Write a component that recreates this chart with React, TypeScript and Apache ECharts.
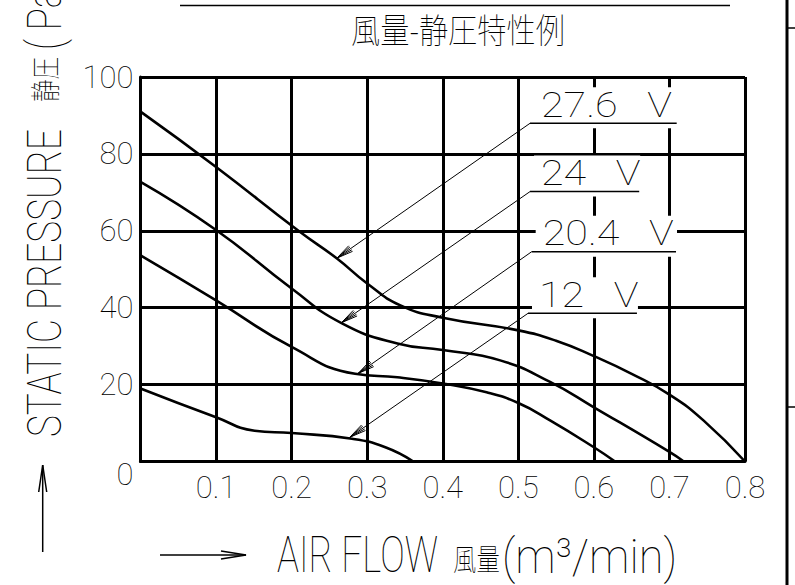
import React, { useEffect, useRef } from 'react';
import * as echarts from 'echarts';

// ---- data (air flow m3/min, static pressure Pa) ----
const flow276 = [0, 0.1, 0.209, 0.26, 0.3, 0.344, 0.4, 0.5, 0.55, 0.6, 0.65, 0.7, 0.745, 0.8];
const pres276 = [91, 76.6, 60, 52.8, 46.3, 40.6, 37.4, 34.1, 31.4, 27.4, 22.8, 17.4, 10.7, 0];

const flow24 = [0, 0.1, 0.2, 0.266, 0.34, 0.4, 0.476, 0.542, 0.6, 0.7, 0.719];
const pres24 = [72.7, 60.2, 45, 36, 30.7, 29, 26.3, 20.7, 14.1, 2.5, 0];

const flow204 = [0, 0.1, 0.2, 0.284, 0.34, 0.4, 0.458, 0.5, 0.542, 0.6, 0.628];
const pres204 = [53.6, 41.9, 29.8, 22.8, 21.9, 20.3, 18, 15.2, 10.7, 3.7, 0];

const flow12 = [0, 0.1, 0.151, 0.2, 0.28, 0.324, 0.361];
const pres12 = [19, 11.5, 8, 7.4, 5.9, 3.7, 0];

const xTickLabels = ['', '0.1', '0.2', '0.3', '0.4', '0.5', '0.6', '0.7', '0.8'];
const yTickLabels = ['0', '20', '40', '60', '80', '100'];

// ---- annotations (data coordinates) ----
const labelTexts = ['27.6   V', '24   V', '20.4   V', '12   V'];
const labelAnchor = [[0.5155, 87.96], [0.5155, 70.2], [0.5177, 54.56], [0.5128, 38.54]];
const underlineEndX = [0.7096, 0.66, 0.7087, 0.657];
const arrowTip = [[0.26, 52.9], [0.266, 36.1], [0.288, 22.9], [0.277, 6.3]];

const LATIN = 'Roboto';
const CJK = '"Noto Sans CJK JP"';
const TICK = 'Roboto';

function pairs(xs: number[], ys: number[]) {
  return xs.map((x, i) => [x, ys[i]]);
}

function barbs(tip: number[], from: number[], len: number, ang: number) {
  const dx = from[0] - tip[0];
  const dy = from[1] - tip[1];
  const l = Math.hypot(dx, dy);
  const ux = dx / l, uy = dy / l;
  const rot = (a: number) => [
    tip[0] + len * (ux * Math.cos(a) - uy * Math.sin(a)),
    tip[1] + len * (ux * Math.sin(a) + uy * Math.cos(a)),
  ];
  return [rot(ang), tip, rot(-ang)];
}

export default function App() {
  const ref = useRef<HTMLDivElement>(null);
  useEffect(() => {
    if (!ref.current) return;
    const chart = echarts.init(ref.current, null, { renderer: 'svg', width: 795, height: 585 });
    const lineSeries = (name: string, data: number[][]) => ({
      name,
      type: 'line',
      data,
      symbol: 'none',
      smooth: 0.5,
      lineStyle: { color: '#000', width: 2.6 },
      z: 3,
    });
    const tickStyle = { fontFamily: TICK, fontWeight: 100, fontSize: 31, color: '#000' };
    chart.setOption({
      animation: false,
      backgroundColor: '#fff',
      grid: { left: 140.5, top: 77, width: 604.5, height: 384.5, containLabel: false },
      xAxis: {
        type: 'value',
        min: 0,
        max: 0.8,
        interval: 0.1,
        axisLine: { show: true, onZero: false, lineStyle: { color: '#000', width: 3 } },
        axisTick: { show: false },
        splitLine: { show: true, lineStyle: { color: '#000', width: 3 } },
        axisLabel: {
          margin: 10,
          ...tickStyle,
          formatter: (_v: number, i: number) => xTickLabels[i] ?? '',
        },
      },
      yAxis: {
        type: 'value',
        min: 0,
        max: 100,
        interval: 20,
        axisLine: { show: true, lineStyle: { color: '#000', width: 3 } },
        axisTick: { show: false },
        splitLine: { show: true, lineStyle: { color: '#000', width: 3 } },
        axisLabel: {
          margin: 7,
          ...tickStyle,
          formatter: (_v: number, i: number) => (i === 0 ? '{o|' + yTickLabels[0] + '}' : yTickLabels[i]),
          rich: { o: { padding: [26, 0, 0, 0], ...tickStyle } },
        },
      },
      series: [
        lineSeries('27.6 V', pairs(flow276, pres276)),
        lineSeries('24 V', pairs(flow24, pres24)),
        lineSeries('20.4 V', pairs(flow204, pres204)),
        lineSeries('12 V', pairs(flow12, pres12)),
      ],
    });

    const px = (p: number[]) => chart.convertToPixel({ gridIndex: 0 }, p) as number[];
    const g: any[] = [];

    // frame / title elements
    g.push({ type: 'line', z: 20, shape: { x1: 787, y1: 0, x2: 787, y2: 585 }, style: { stroke: '#000', lineWidth: 3 } });
    g.push({ type: 'line', z: 20, shape: { x1: 787, y1: 28, x2: 795, y2: 28 }, style: { stroke: '#000', lineWidth: 1.5 } });
    g.push({ type: 'line', z: 20, shape: { x1: 787, y1: 407, x2: 795, y2: 407 }, style: { stroke: '#000', lineWidth: 1.5 } });
    g.push({ type: 'line', z: 20, shape: { x1: 180, y1: 5.5, x2: 730, y2: 5.5 }, style: { stroke: '#000', lineWidth: 1.5 } });
    g.push({
      type: 'text', z: 20, x: 458, y: 28, scaleX: 0.86,
      style: { text: '風量-静圧特性例', font: `100 34px ${CJK}`, fill: '#000', align: 'center', verticalAlign: 'middle' },
    });

    // x axis title
    g.push({ type: 'line', z: 20, shape: { x1: 160, y1: 555, x2: 246, y2: 555 }, style: { stroke: '#000', lineWidth: 1.5 } });
    g.push({ type: 'polyline', z: 20, shape: { points: [[221, 551], [246, 555], [221, 559]] }, style: { stroke: '#000', lineWidth: 1.5, fill: null } });
    g.push({
      type: 'text', z: 20, x: 277, y: 555.5, scaleX: 0.75,
      style: { text: 'AIR FLOW', font: `100 49px ${LATIN}`, fill: '#000', align: 'left', verticalAlign: 'middle' },
    });
    g.push({
      type: 'text', z: 20, x: 453, y: 557, scaleX: 0.78,
      style: { text: '風量', font: `100 30px ${CJK}`, fill: '#000', align: 'left', verticalAlign: 'middle' },
    });
    g.push({
      type: 'text', z: 20, x: 502, y: 555.5, scaleX: 0.92,
      style: { text: '(m³/min)', font: `100 49px ${LATIN}`, fill: '#000', align: 'left', verticalAlign: 'middle' },
    });

    // y axis title (rotated)
    g.push({ type: 'line', z: 20, shape: { x1: 42.7, y1: 552, x2: 42.7, y2: 465 }, style: { stroke: '#000', lineWidth: 1.5 } });
    g.push({ type: 'polyline', z: 20, shape: { points: [[38.7, 492], [42.7, 465], [46.7, 492]] }, style: { stroke: '#000', lineWidth: 1.5, fill: null } });
    g.push({
      type: 'text', z: 20, x: 44.5, y: 437, rotation: Math.PI / 2, scaleX: 0.755,
      style: { text: 'STATIC PRESSURE', font: `100 49px ${LATIN}`, fill: '#000', align: 'left', verticalAlign: 'middle' },
    });
    g.push({
      type: 'text', z: 20, x: 42.5, y: 102, rotation: Math.PI / 2, scaleX: 0.75,
      style: { text: '静圧', font: `100 30px ${CJK}`, fill: '#000', align: 'left', verticalAlign: 'middle' },
    });
    g.push({
      type: 'text', z: 20, x: 44.5, y: 50, rotation: Math.PI / 2, scaleX: 0.755,
      style: { text: '( Pa)', font: `100 49px ${LATIN}`, fill: '#000', align: 'left', verticalAlign: 'middle' },
    });

    // voltage annotations
    labelTexts.forEach((t, i) => {
      const a = px(labelAnchor[i]);
      const e = px([underlineEndX[i], labelAnchor[i][1]]);
      const tip = px(arrowTip[i]);
      g.push({ type: 'rect', z: 8, shape: { x: a[0] + 4, y: a[1] - 36, width: e[0] - a[0] - 3, height: 41 }, style: { fill: '#fff' } });
      g.push({ type: 'line', z: 20, shape: { x1: a[0], y1: a[1], x2: e[0], y2: e[1] }, style: { stroke: '#000', lineWidth: 1.5 } });
      g.push({ type: 'line', z: 20, shape: { x1: a[0], y1: a[1], x2: tip[0], y2: tip[1] }, style: { stroke: '#000', lineWidth: 1 } });
      g.push({ type: 'polyline', z: 20, shape: { points: barbs(tip, a, 17, 0.2) }, style: { stroke: '#000', lineWidth: 1, fill: null } });
      g.push({ type: 'polyline', z: 20, shape: { points: barbs(tip, a, 17, 0.1) }, style: { stroke: '#000', lineWidth: 1, fill: null } });
      g.push({
        type: 'text', z: 20, x: a[0] + 11, y: a[1] - 19, scaleX: 1.18,
        style: { text: t, font: `100 35px ${LATIN}`, fill: '#000', align: 'left', verticalAlign: 'middle' },
      });
    });

    chart.setOption({ graphic: g });
    return () => chart.dispose();
  }, []);

  return (
    <div
      ref={ref}
      style={{ position: 'fixed', left: 0, top: 0, width: 795, height: 585, background: '#fff' }}
    />
  );
}
